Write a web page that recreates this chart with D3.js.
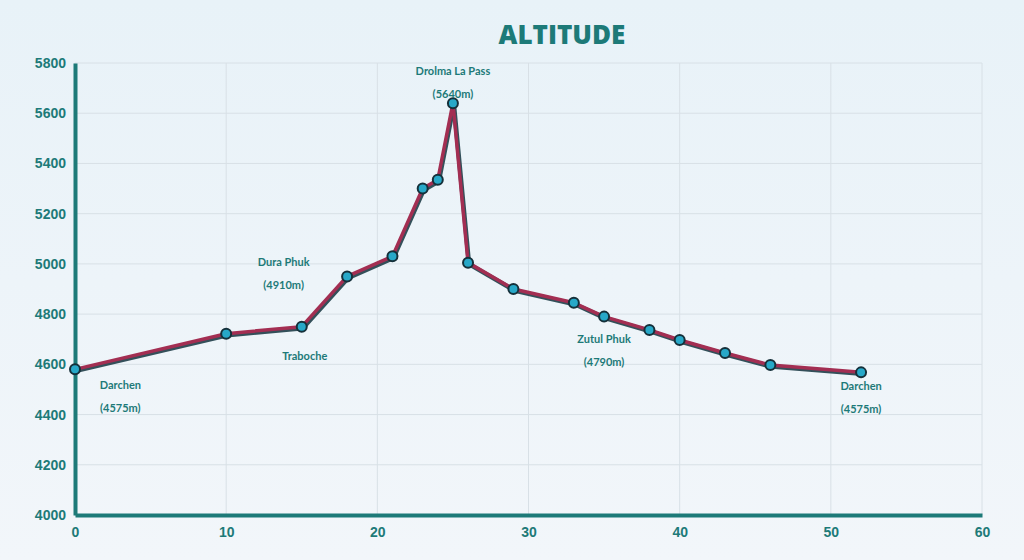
<!DOCTYPE html>
<html>
<head>
<meta charset="utf-8">
<script src="https://cdn.jsdelivr.net/npm/d3@7"></script>
<style>
  html, body { margin: 0; padding: 0; }
  body { width: 1024px; height: 560px; overflow: hidden; }
</style>
</head>
<body>
<div id="chart"></div>
<script>
// trek distance (km) and altitude (m)
var distance = [0, 10, 15, 18, 21, 23, 24, 25, 26, 29, 33, 35, 38, 40, 43, 46, 52];
var altitude = [4580, 4722, 4750, 4950, 5030, 5300, 5335, 5640, 5005, 4900, 4845, 4790, 4737, 4697, 4645, 4597, 4568];

var xTicks = [0, 10, 20, 30, 40, 50, 60];
var yTicks = [4000, 4200, 4400, 4600, 4800, 5000, 5200, 5400, 5600, 5800];

// place labels: name, height text, anchor distance/altitude
var placeNames = ["Darchen", "Traboche", "Dura Phuk", "Drolma La Pass", "Zutul Phuk", "Darchen"];
var placeHeights = ["(4575m)", "", "(4910m)", "(5640m)", "(4790m)", "(4575m)"];
var placeX = [3.0, 15.2, 13.8, 25, 35, 52];
var placeY = [4502, 4616, 4993, 5752, 4683, 4498];

var width = 1024, height = 560;
var margin = {top: 63, right: 42, bottom: 45, left: 75};

var svg = d3.select("#chart").append("svg")
    .attr("width", width)
    .attr("height", height);

// soft background
var defs = svg.append("defs");
var bg = defs.append("linearGradient").attr("id", "bg")
    .attr("x1", 0).attr("y1", 0).attr("x2", 0).attr("y2", 1);
bg.append("stop").attr("offset", "0%").attr("stop-color", "#e8f2f8");
bg.append("stop").attr("offset", "100%").attr("stop-color", "#f2f6fa");
svg.append("rect").attr("width", width).attr("height", height).attr("fill", "url(#bg)");

var x = d3.scaleLinear().domain([0, 60]).range([margin.left, width - margin.right]);
var y = d3.scaleLinear().domain([4000, 5800]).range([height - margin.bottom, margin.top]);

var teal = "#1d7a78";

// title
svg.append("text")
    .attr("x", 562).attr("y", 44)
    .attr("text-anchor", "middle")
    .style("font-family", "'Open Sans', sans-serif")
    .style("font-weight", "800")
    .style("font-size", "26px")
    .style("fill", teal)
    .text("ALTITUDE");

// grid
svg.append("g").selectAll("line.h").data(yTicks).enter().append("line")
    .attr("x1", x(0)).attr("x2", x(60))
    .attr("y1", function(d) { return y(d); })
    .attr("y2", function(d) { return y(d); })
    .style("stroke", "#d8e0e6").style("stroke-width", 1);
svg.append("g").selectAll("line.v").data(xTicks).enter().append("line")
    .attr("y1", y(4000)).attr("y2", y(5800))
    .attr("x1", function(d) { return x(d); })
    .attr("x2", function(d) { return x(d); })
    .style("stroke", "#d8e0e6").style("stroke-width", 1);

// axes
var xAxis = svg.append("g")
    .attr("transform", "translate(0," + y(4000) + ")")
    .call(d3.axisBottom(x).tickValues(xTicks).tickFormat(d3.format("d")).tickSize(0).tickPadding(12));
var yAxis = svg.append("g")
    .attr("transform", "translate(" + x(0) + ",0)")
    .call(d3.axisLeft(y).tickValues(yTicks).tickFormat(d3.format("d")).tickSize(0).tickPadding(9));

[xAxis, yAxis].forEach(function(a) {
  a.select(".domain").style("stroke", teal).style("stroke-width", 4);
  a.selectAll("text")
      .style("font-family", "'Liberation Sans', Arial, sans-serif")
      .style("font-weight", "bold")
      .style("font-size", "14px")
      .style("fill", teal);
});

var pts = distance.map(function(d, i) { return [d, altitude[i]]; });
var line = d3.line()
    .x(function(d) { return x(d[0]); })
    .y(function(d) { return y(d[1]); });

// dark under-stroke then crimson line
svg.append("path").datum(pts)
    .attr("d", line)
    .attr("transform", "translate(1,1.5)")
    .style("fill", "none").style("stroke", "#34505a")
    .style("stroke-width", 4.5).style("stroke-linejoin", "round");
svg.append("path").datum(pts)
    .attr("d", line)
    .style("fill", "none").style("stroke", "#a32e52")
    .style("stroke-width", 3.5).style("stroke-linejoin", "round");

svg.append("g").selectAll("circle").data(pts).enter().append("circle")
    .attr("cx", function(d) { return x(d[0]); })
    .attr("cy", function(d) { return y(d[1]); })
    .attr("r", 5)
    .style("fill", "#27a8c8")
    .style("stroke", "#15303a")
    .style("stroke-width", 2);

// place labels
var labels = svg.append("g").selectAll("g").data(placeNames).enter().append("g")
    .attr("transform", function(d, i) {
      return "translate(" + x(placeX[i]) + "," + y(placeY[i]) + ")";
    });
labels.append("text")
    .attr("text-anchor", "middle")
    .style("font-family", "Lato, sans-serif")
    .style("font-weight", "bold")
    .style("font-size", "11px")
    .style("fill", teal)
    .text(function(d) { return d; });
labels.append("text")
    .attr("y", 23)
    .attr("text-anchor", "middle")
    .style("font-family", "Lato, sans-serif")
    .style("font-weight", "bold")
    .style("font-size", "11px")
    .style("fill", teal)
    .text(function(d, i) { return placeHeights[i]; });
</script>
</body>
</html>
